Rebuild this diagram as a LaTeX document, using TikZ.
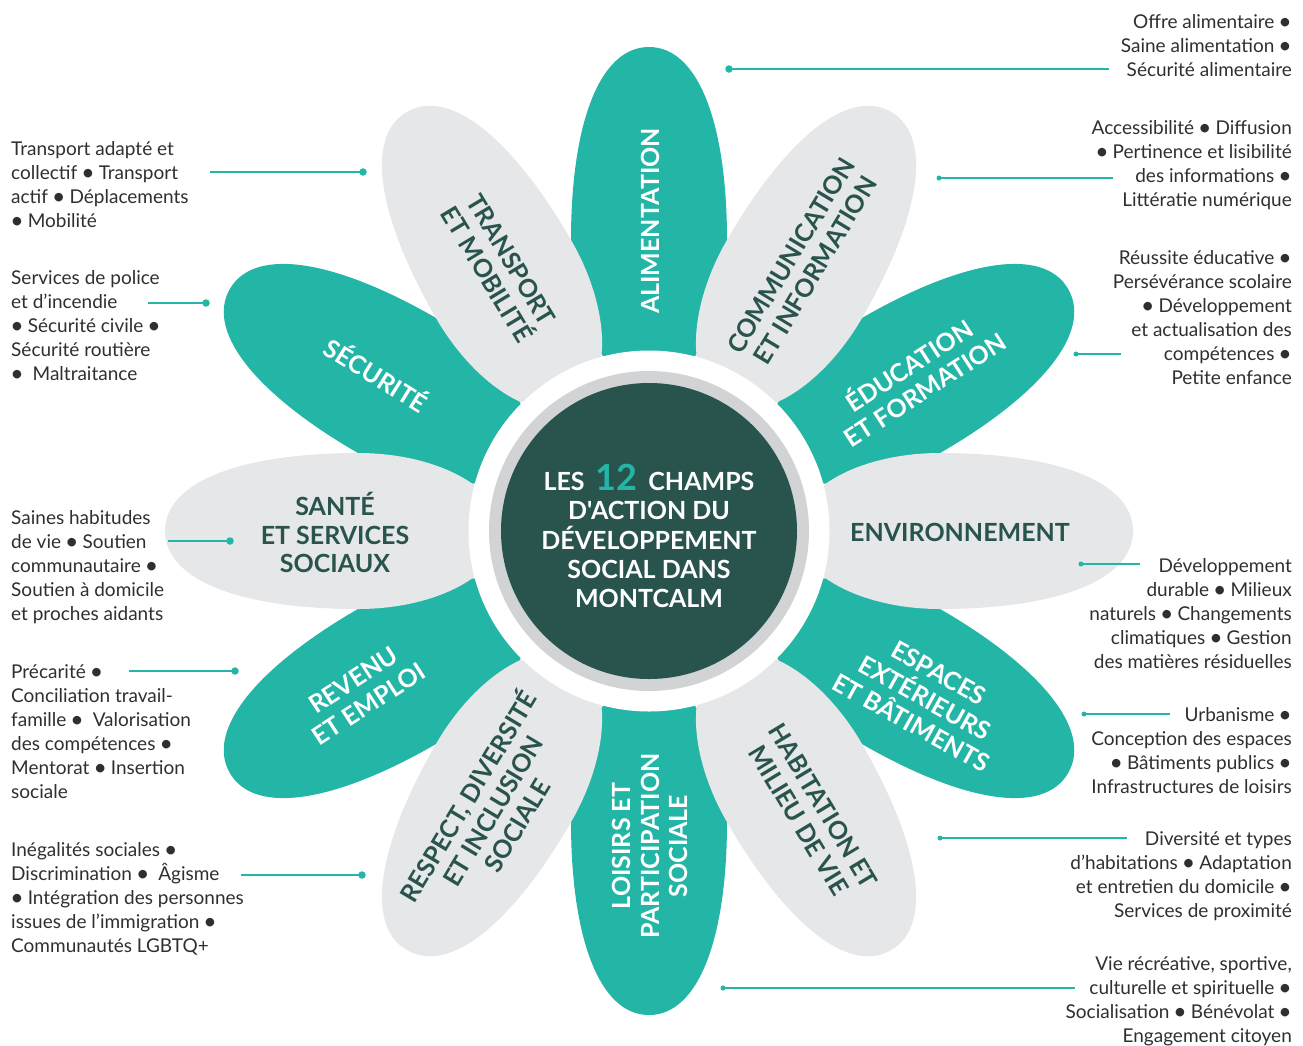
\documentclass[tikz,border=0pt]{standalone}
\usepackage{fontspec}
\setmainfont{Lato}
\newfontfamily\plainlato{Lato}
\usetikzlibrary{arrows.meta}
\definecolor{teal}{HTML}{23B5A5}
\definecolor{petalgrey}{HTML}{E6E7E9}
\definecolor{deep}{HTML}{29544E}
\definecolor{ring}{HTML}{D1D3D5}
\definecolor{ink}{HTML}{2F2F33}
\newcommand{\bu}{\hspace{-0.8pt}{\fontsize{23}{24}\selectfont\raisebox{-1.1pt}{•}}\hspace{-0.8pt}}
\newcommand{\egg}[2]{\fill[#2,shift={(649,531)},rotate=-#1] (0,-484) .. controls (50,-484) and (78,-406) .. (78,-291) .. controls (78,-212) and (43,-147) .. (0,-147) .. controls (-43,-147) and (-78,-212) .. (-78,-291) .. controls (-78,-406) and (-50,-484) .. (0,-484) -- cycle;}
\tikzset{
 lab/.style={align=center,inner sep=0pt,font=\bfseries\fontsize{25}{28.5}\selectfont},
 labw/.style={lab,text=white},
 labd/.style={lab,text=deep},
 rtext/.style={anchor=north east,align=right,inner sep=0pt,text=ink,font=\fontsize{19}{24}\selectfont},
 ltext/.style={anchor=north west,align=left,inner sep=0pt,text=ink,font=\fontsize{19}{24}\selectfont},
 lead/.style={draw=teal,line width=1.4pt},
 dotb/.style={fill=teal,circle,inner sep=0pt,minimum size=7.5pt},
 dots/.style={fill=teal,circle,inner sep=0pt,minimum size=5pt},
}
\begin{document}
\begin{tikzpicture}[x=1pt,y=-1pt]
\useasboundingbox (0,0) rectangle (1303,1045);
\foreach \a in {0,60,120,180,240,300} {\egg{\a}{teal}}
\foreach \a in {30,90,150,210,270,330} {\egg{\a}{petalgrey}}
\node[circle,fill=white,minimum size=361pt,inner sep=0pt] (halo) at (649,531) {};
\node[circle,fill=ring,minimum size=320pt,inner sep=0pt] (ringc) at (649,531) {};
\node[circle,fill=deep,minimum size=296pt,inner sep=0pt] (core) at (649,531) {};
\node[align=center,inner sep=0pt,text=white,font=\plainlato\bfseries\fontsize{25}{29.3}\selectfont] (title) at (649,536)
 {LES\hspace{11pt}{\color{teal}\fontsize{36}{29.3}\selectfont 12}\hspace{11pt}CHAMPS\\D'ACTION DU\\DÉVELOPPEMENT\\SOCIAL DANS\\MONTCALM};
% petal labels
\node[labw,rotate=90] (l1) at (650,221) {ALIMENTATION};
\node[labd,rotate=59] (l2) at (803,263) {COMMUNICATION\\ET INFORMATION};
\node[labw,rotate=33] (l3) at (916,376) {ÉDUCATION\\ET FORMATION};
\node[labd] (l4) at (960,532) {ENVIRONNEMENT};
\node[labw,rotate=-29] (l5) at (925,698) {ESPACES\\EXTÉRIEURS\\ET BÂTIMENTS};
\node[labd,rotate=-59] (l6) at (811,813) {HABITATION ET\\MILIEU DE VIE};
\node[labw,rotate=90] (l7) at (650,846) {LOISIRS ET\\PARTICIPATION\\SOCIALE};
\node[labd,rotate=59] (l8) at (491,810) {RESPECT, DIVERSITÉ\\ET INCLUSION\\SOCIALE};
\node[labw,rotate=33] (l9) at (361,692) {REVENU\\ET EMPLOI};
\node[labd] (l10) at (335,532.5) {SANTÉ\\ET SERVICES\\SOCIAUX};
\node[labw,rotate=-32] (l11) at (377,374) {SÉCURITÉ};
\node[labd,rotate=-59] (l12) at (499,267) {TRANSPORT\\ET MOBILITÉ};
% right texts
\node[rtext] (t1) at (1292,14) {Offre alimentaire \bu\\Saine alimentation \bu\\Sécurité alimentaire};
\node[rtext] (t2) at (1292,120) {Accessibilité \bu{} Diffusion\\\bu{} Pertinence et lisibilité\\des informations \bu\\Littératie numérique};
\node[rtext] (t3) at (1292,250) {Réussite éducative \bu\\Persévérance scolaire\\\bu{} Développement\\et actualisation des\\compétences \bu\\Petite enfance};
\node[rtext] (t4) at (1292,558) {Développement\\durable \bu{} Milieux\\naturels \bu{} Changements\\climatiques \bu{} Gestion\\des matières résiduelles};
\node[rtext] (t5) at (1292,707) {Urbanisme \bu\\Conception des espaces\\\bu{} Bâtiments publics \bu\\Infrastructures de loisirs};
\node[rtext] (t6) at (1292,831) {Diversité et types\\d’habitations \bu{} Adaptation\\et entretien du domicile \bu\\Services de proximité};
\node[rtext] (t7) at (1292,956) {Vie récréative, sportive,\\culturelle et spirituelle \bu\\Socialisation \bu{} Bénévolat \bu\\Engagement citoyen};
% left texts
\node[ltext] (t8) at (11,141) {Transport adapté et\\collectif \bu{} Transport\\actif \bu{} Déplacements\\\bu{} Mobilité};
\node[ltext] (t9) at (11,270) {Services de police\\et d’incendie\\\bu{} Sécurité civile \bu\\Sécurité routière\\\bu{}~ Maltraitance};
\node[ltext] (t10) at (11,510) {Saines habitudes\\de vie \bu{} Soutien\\communautaire \bu\\Soutien à domicile\\et proches aidants};
\node[ltext] (t11) at (11,664) {Précarité \bu\\Conciliation travail-\\famille \bu{}~ Valorisation\\des compétences \bu\\Mentorat \bu{} Insertion\\sociale};
\node[ltext] (t12) at (11,842) {Inégalités sociales \bu\\Discrimination \bu{}~ Âgisme\\\bu{} Intégration des personnes\\issues de l’immigration \bu\\Communautés LGBTQ+};
% connectors
\foreach \n/\ax/\ay/\bx/\by/\st in {1/729/69/1109/69/dotb,2/939/178/1113/178/dots,3/1076/354/1121/354/dots,4/1081/564/1140/564/dots,5/1084/714/1170/714/dots,6/940/838/1127/838/dots,7/723/988/1075/988/dots,8/363/172/210/172/dotb,9/206/303/148/303/dotb,10/230/541/168/541/dotb,11/235/671/129/671/dotb,12/362/875/241/875/dotb}{
 \node[\st] (d\n) at (\ax,\ay) {};
 \coordinate (e\n) at (\bx,\by);
 \draw[lead] (d\n.center) -- (e\n);
}
\end{tikzpicture}
\end{document}
